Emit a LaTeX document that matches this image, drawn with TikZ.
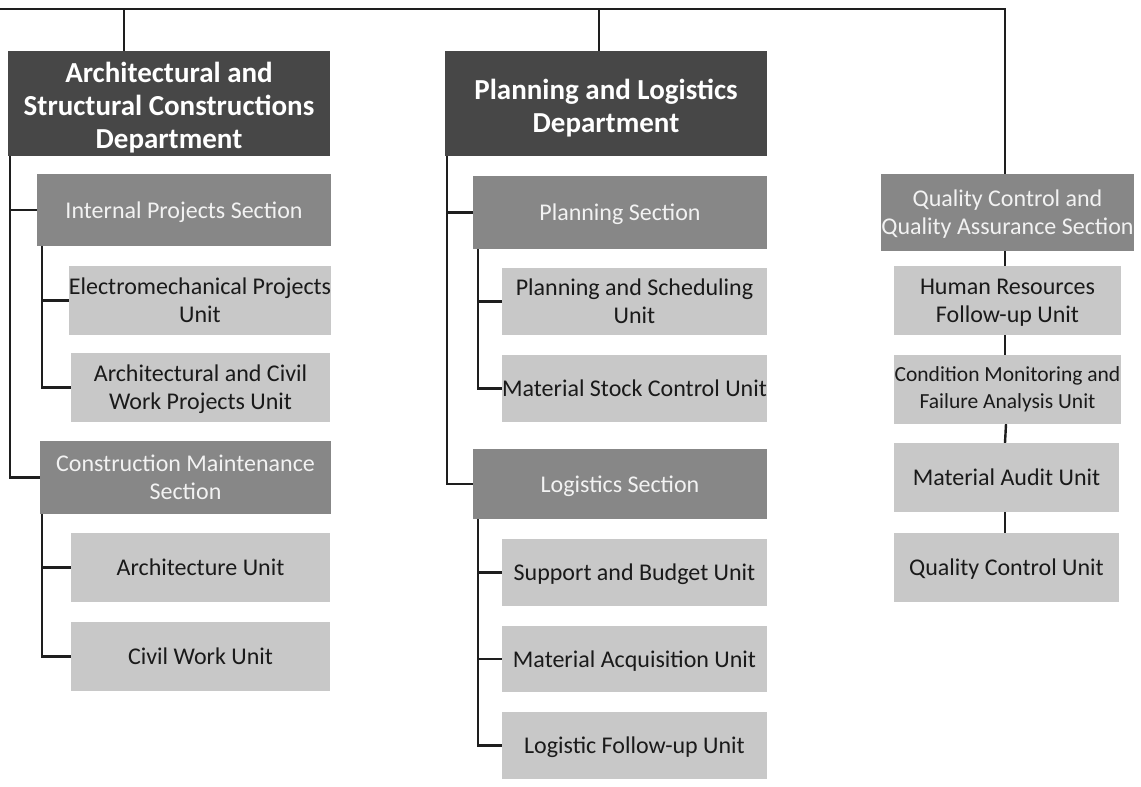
\documentclass[tikz,border=0pt]{standalone}
\usepackage{fontspec}
\setmainfont{Carlito}
\definecolor{deptc}{HTML}{474747}
\definecolor{secc}{HTML}{878787}
\definecolor{unitc}{HTML}{C8C8C8}
\definecolor{linec}{HTML}{1E1E1E}
\definecolor{utext}{HTML}{1A1A1A}
\definecolor{stext}{HTML}{F2F2F2}
\newlength\txtdrop
\newcommand\tx[1]{\raisebox{0pt}[\height][\dimexpr\depth-2\txtdrop\relax]{\begin{tabular}{@{}c@{}}#1\end{tabular}}}
\begin{document}
\begin{tikzpicture}[x=1pt,y=-1pt,
  box/.style={inner sep=0pt, anchor=center},
  dept/.style={box, fill=deptc, text=white, font=\fontsize{29}{33}\selectfont\bfseries\setlength\txtdrop{5.5pt}},
  sect/.style={box, fill=secc, text=stext, font=\fontsize{24}{28}\selectfont\setlength\txtdrop{2.5pt}},
  unit/.style={box, fill=unitc, text=utext, font=\fontsize{24}{28}\selectfont\setlength\txtdrop{2.5pt}},
  conn/.style={draw=linec, line width=2.4pt}]
\useasboundingbox (0,0) rectangle (1141,787);
% departments
\node[dept, minimum width=322, minimum height=105] (d1) at (169,103.5) {\tx{Architectural and\\Structural Constructions\\Department}};
\node[dept, minimum width=322, minimum height=105] (d2) at (606,103.5) {\tx{Planning and Logistics\\Department}};
% sections
\node[sect, minimum width=294, minimum height=72] (s1) at (184,210) {\tx{Internal Projects Section}};
\node[sect, minimum width=291, minimum height=73] (s2) at (185.5,477.5) {\tx{Construction Maintenance\\Section}};
\node[sect, minimum width=294, minimum height=73] (s3) at (620,212.5) {\tx{Planning Section}};
\node[sect, minimum width=294, minimum height=70] (s4) at (620,484) {\tx{Logistics Section}};
\node[sect, minimum width=251, minimum height=77] (qc) at (1007.5,212.5) {\tx{Quality Control and\\Quality Assurance Section}};
% units
\node[unit, minimum width=262, minimum height=69] (u1) at (200,300.5) {\tx{Electromechanical Projects\\Unit}};
\node[unit, minimum width=259, minimum height=69] (u2) at (200.5,387.5) {\tx{Architectural and Civil\\Work Projects Unit}};
\node[unit, minimum width=259, minimum height=69] (u3) at (200.5,567.5) {\tx{Architecture Unit}};
\node[unit, minimum width=259, minimum height=69] (u4) at (200.5,656.5) {\tx{Civil Work Unit}};
\node[unit, minimum width=265, minimum height=67] (u5) at (634.5,301.5) {\tx{Planning and Scheduling\\Unit}};
\node[unit, minimum width=265, minimum height=67] (u6) at (634.5,388.5) {\tx{Material Stock Control Unit}};
\node[unit, minimum width=265, minimum height=67] (u7) at (634.5,572.5) {\tx{Support and Budget Unit}};
\node[unit, minimum width=265, minimum height=66] (u8) at (634.5,659) {\tx{Material Acquisition Unit}};
\node[unit, minimum width=265, minimum height=67] (u9) at (634.5,745.5) {\tx{Logistic Follow-up Unit}};
\node[unit, minimum width=227, minimum height=69] (u10) at (1007.5,300.5) {\tx{Human Resources\\Follow-up Unit}};
\node[unit, minimum width=227, minimum height=69, font=\fontsize{21.5}{27}\selectfont] (u11) at (1007.5,389.5) {\tx{Condition Monitoring and\\Failure Analysis Unit}};
\node[unit, minimum width=225, minimum height=69] (u12) at (1006.5,477.5) {\tx{Material Audit Unit}};
\node[unit, minimum width=225, minimum height=69] (u13) at (1006.5,567.5) {\tx{Quality Control Unit}};
% top bar
\coordinate (topL) at (0,9);
\draw[conn] ([xshift=-45]d1.north) |- (topL);
\draw[conn] ([xshift=-7]d2.north) |- (topL);
\draw[conn] ([xshift=-2.5]qc.north) |- (topL);
% department 1
\draw[conn] ([xshift=2]d1.south west) |- (s1.west);
\draw[conn] ([xshift=2]d1.south west) |- (s2.west);
\draw[conn] ([xshift=5]s1.south west) |- (u1.west);
\draw[conn] ([xshift=5]s1.south west) |- (u2.west);
\draw[conn] ([xshift=2]s2.south west) |- (u3.west);
\draw[conn] ([xshift=2]s2.south west) |- (u4.west);
% department 2
\draw[conn] ([xshift=2]d2.south west) |- (s3.west);
\draw[conn] ([xshift=2]d2.south west) |- (s4.west);
\draw[conn] ([xshift=5]s3.south west) |- (u5.west);
\draw[conn] ([xshift=5]s3.south west) |- (u6.west);
\draw[conn] ([xshift=5]s4.south west) |- (u7.west);
\draw[conn] ([xshift=5]s4.south west) |- (u8.west);
\draw[conn] ([xshift=5]s4.south west) |- (u9.west);
% quality column
\draw[conn] ([xshift=-2.5]qc.south) -- ([xshift=-2.5]u10.north);
\draw[conn] ([xshift=-2.5]u10.south) -- ([xshift=-2.5]u11.north);
\draw[conn] ([xshift=-1.5]u11.south) -- ([xshift=-1.5]u12.north);
\draw[conn] ([xshift=-1.5]u12.south) -- ([xshift=-1.5]u13.north);
\end{tikzpicture}
\end{document}
